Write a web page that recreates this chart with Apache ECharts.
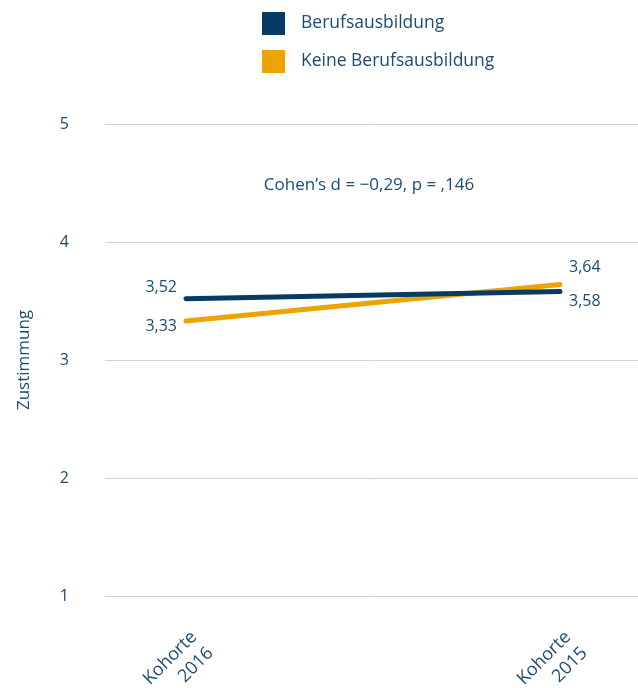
<!DOCTYPE html>
<html>
<head>
<meta charset="utf-8">
<script src="https://cdn.jsdelivr.net/npm/echarts@6/dist/echarts.min.js"></script>
<style>
  html, body { margin: 0; padding: 0; background: #fff; }
  #chart { width: 638px; height: 688px; }
</style>
</head>
<body>
<div id="chart"></div>
<script>
// Cohorts on the x axis, mean agreement per group
const cohorts = ['Kohorte\n2016', 'Kohorte\n2015'];
const seriesNames = ['Berufsausbildung', 'Keine Berufsausbildung'];
const withTraining = [3.52, 3.58];
const withoutTraining = [3.33, 3.64];
const yTicks = [1, 2, 3, 4, 5];
const effectNote = 'Cohen’s d = −0,29, p = ,146';

const NAVY = '#073b63';
const GOLD = '#eca400';
const TEXT = '#1d4b73';
const FONT = '"Open Sans", "Noto Sans", sans-serif';

const fmt = v => v.toFixed(2).replace('.', ',');

const chart = echarts.init(document.getElementById('chart'));

// label placement for each end point of each line
const navyLabels = [
  { position: 'left', offset: [0, -11] },
  { position: 'right', offset: [0, 10] }
];
const goldLabels = [
  { position: 'left', offset: [0, 5] },
  { position: 'right', offset: [0, -17] }
];

function points(values, labels) {
  return values.map((v, i) => ({
    value: v,
    label: Object.assign({
      show: true,
      distance: 8,
      color: TEXT,
      fontFamily: FONT,
      fontSize: 16,
      formatter: p => fmt(p.value)
    }, labels[i])
  }));
}

chart.setOption({
  animation: false,
  textStyle: { fontFamily: FONT },
  legend: {
    orient: 'vertical',
    left: 257,
    top: 7,
    itemWidth: 23,
    itemHeight: 23,
    itemGap: 15,
    icon: 'rect',
    textStyle: { color: TEXT, fontSize: 17.5, fontFamily: FONT, padding: [0, 0, 0, 11] },
    data: seriesNames
  },
  title: {
    text: effectNote,
    left: 364,
    textAlign: 'center',
    top: 172,
    textStyle: { color: TEXT, fontSize: 17, fontWeight: 'normal', fontFamily: FONT }
  },
  grid: [
    { left: 105, right: 0, top: 124, bottom: 92, outerBoundsMode: 'none' },
    { left: 186, right: 78, top: 124, bottom: 92, outerBoundsMode: 'none' }
  ],
  xAxis: [
    { gridIndex: 0, type: 'value', show: false, min: 0, max: 1 },
    {
      gridIndex: 1,
      type: 'category',
      data: cohorts,
      boundaryGap: false,
      axisLine: { show: false },
      axisTick: { show: false },
      axisLabel: {
        rotate: 45,
        margin: 30,
        verticalAlign: 'top',
        color: TEXT,
        fontSize: 18,
        lineHeight: 23,
        fontFamily: FONT
      }
    }
  ],
  yAxis: [
    {
      gridIndex: 0,
      type: 'value',
      min: yTicks[0],
      max: yTicks[yTicks.length - 1],
      interval: 1,
      name: 'Zustimmung',
      nameLocation: 'middle',
      nameGap: 72,
      nameTextStyle: { color: TEXT, fontSize: 17, fontFamily: FONT },
      axisLine: { show: false },
      axisTick: { show: false },
      axisLabel: { margin: 36, color: TEXT, fontSize: 16, fontFamily: FONT },
      splitLine: { lineStyle: { color: '#cfd3d8', width: 1 } }
    },
    {
      gridIndex: 1,
      type: 'value',
      min: yTicks[0],
      max: yTicks[yTicks.length - 1],
      show: false,
      splitLine: { show: false }
    }
  ],
  series: [
    {
      name: seriesNames[0],
      type: 'line',
      xAxisIndex: 1,
      yAxisIndex: 1,
      data: points(withTraining, navyLabels),
      symbol: 'circle',
      symbolSize: 2,
      showSymbol: true,
      color: NAVY,
      itemStyle: { color: NAVY },
      lineStyle: { width: 5, color: NAVY, cap: 'round' },
      z: 3
    },
    {
      name: seriesNames[1],
      type: 'line',
      xAxisIndex: 1,
      yAxisIndex: 1,
      data: points(withoutTraining, goldLabels),
      symbol: 'circle',
      symbolSize: 2,
      showSymbol: true,
      color: GOLD,
      itemStyle: { color: GOLD },
      lineStyle: { width: 5, color: GOLD, cap: 'round' },
      z: 2
    }
  ]
});
</script>
</body>
</html>
